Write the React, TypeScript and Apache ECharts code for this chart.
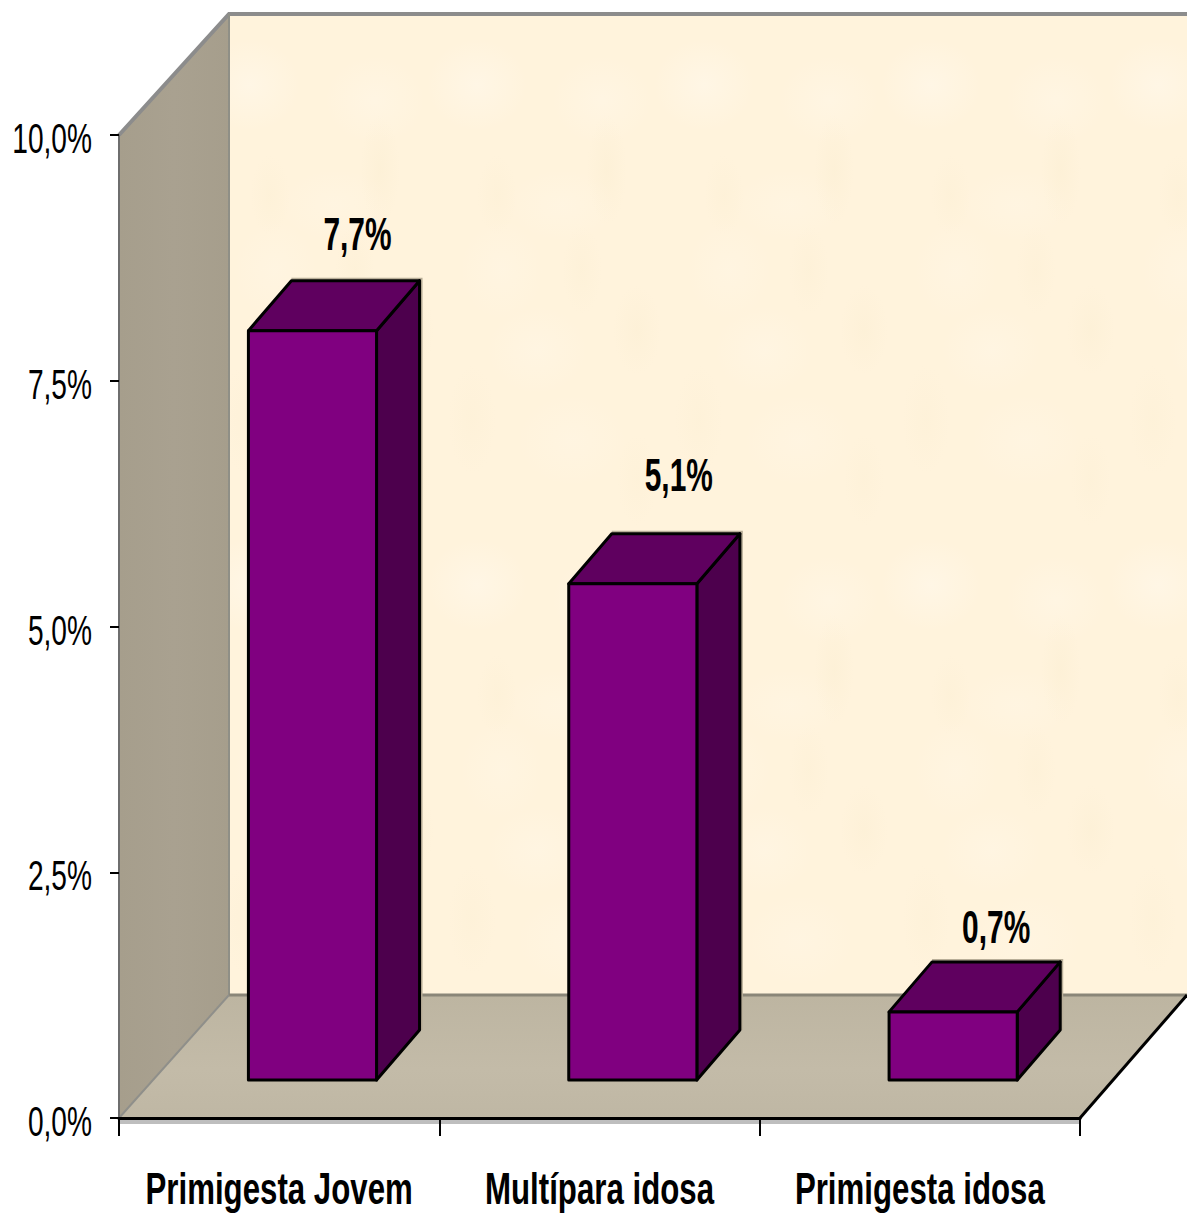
import React, { useEffect, useRef } from "react";
import * as echarts from "echarts";

const categories = ["Primigesta Jovem", "Multípara idosa", "Primigesta idosa"];
const values = [7.7, 5.1, 0.7];
const valueLabels = ["7,7%", "5,1%", "0,7%"];
const yTickValues = [0, 2.5, 5, 7.5, 10];
const yTicks = ["0,0%", "2,5%", "5,0%", "7,5%", "10,0%"];

const W = 1187;
const H = 1213;
const FONT = '"Liberation Sans", Arial, sans-serif';
const labelLift = [97, 109, 85];
const labelShift = [45, 46, 43];

// one tile of the parchment texture on the back wall: x, y, rx, ry, light(1)/dark(0), alpha
const textureTile: number[][] = [
  [35, 65, 50, 46, 1, 0.5], [160, 80, 50, 44, 1, 0.35], [120, 185, 55, 36, 1, 0.25], [60, 250, 42, 50, 1, 0.25],
  [165, 150, 20, 55, 0, 0.22], [55, 175, 20, 40, 0, 0.16], [140, 250, 20, 45, 0, 0.16], [195, 310, 24, 45, 0, 0.2],
  [95, 330, 50, 44, 1, 0.3], [30, 400, 24, 55, 0, 0.14], [130, 420, 55, 46, 1, 0.25], [195, 460, 20, 46, 0, 0.14],
];

function textureSpots() {
  const spots: any[] = [];
  for (let c = 0; c < 5; c++) {
    for (let r = 0; r < 2; r++) {
      textureTile.forEach(([x, y, rx, ry, light, a]) => {
        const cx = 215 + c * 227 + x;
        const cy = 20 + r * 500 + y;
        if (cy + ry > 992 || cy - ry < 16) return;
        const rgb = light ? "255,249,238" : "246,232,198";
        spots.push({
          type: "ellipse", z: -4,
          shape: { cx, cy, rx, ry },
          style: {
            fill: {
              type: "radial", x: 0.5, y: 0.5, r: 0.5,
              colorStops: [
                { offset: 0, color: `rgba(${rgb},${a})` },
                { offset: 1, color: `rgba(${rgb},0)` },
              ],
            },
          },
        });
      });
    }
  }
  return spots;
}

function App() {
  const ref = useRef<HTMLDivElement>(null);
  useEffect(() => {
    const chart = echarts.init(ref.current!, undefined, { renderer: "svg" });
    const wallGraphics: any[] = [
      {
        type: "polygon", z: -5,
        shape: { points: [[229, 14], [1187, 14], [1187, 995], [229, 995]] },
        style: { fill: "#FFF3DC" },
      },
      ...textureSpots(),
      {
        type: "polygon", z: -3,
        shape: { points: [[119, 135], [229, 14], [229, 995], [119, 1118]] },
        style: {
          fill: {
            type: "linear", x: 0, y: 0, x2: 1, y2: 0,
            colorStops: [
              { offset: 0, color: "#A69E8C" },
              { offset: 0.5, color: "#A9A190" },
              { offset: 1, color: "#A69E8C" },
            ],
          },
        },
      },
      {
        type: "polygon", z: -3,
        shape: { points: [[119, 1118], [229, 995], [1187, 995], [1080, 1118]] },
        style: {
          fill: {
            type: "linear", x: 0, y: 0, x2: 0, y2: 1,
            colorStops: [
              { offset: 0, color: "#BDB5A1" },
              { offset: 0.6, color: "#C3BBA8" },
              { offset: 1, color: "#BFB7A4" },
            ],
          },
        },
      },
      { type: "polyline", z: -2, shape: { points: [[119, 135], [229, 14], [1187, 14]] }, style: { stroke: "#8C8C8C", lineWidth: 4, fill: "none" } },
      { type: "line", z: -2, shape: { x1: 229, y1: 14, x2: 229, y2: 995 }, style: { stroke: "#8F8F86", lineWidth: 2 } },
      { type: "line", z: -2, shape: { x1: 229, y1: 995, x2: 1187, y2: 995 }, style: { stroke: "#8A8678", lineWidth: 3 } },
      { type: "line", z: -2, shape: { x1: 119, y1: 1118, x2: 229, y2: 995 }, style: { stroke: "#8F8F8A", lineWidth: 2 } },
      { type: "line", z: -2, shape: { x1: 1080, y1: 1118, x2: 1187, y2: 995 }, style: { stroke: "#000", lineWidth: 3 } },
      { type: "line", z: -2, shape: { x1: 119, y1: 1122, x2: 1080, y2: 1122 }, style: { stroke: "#BEBEBE", lineWidth: 4 } },
    ];

    chart.setOption({
      animation: false,
      backgroundColor: "#fff",
      grid: { left: 119, right: W - 1080, top: 135, bottom: H - 1118, containLabel: false, outerBoundsMode: "none" },
      graphic: wallGraphics,
      xAxis: {
        type: "category",
        data: categories,
        axisLine: { show: true, lineStyle: { color: "#000", width: 3 } },
        axisTick: { show: true, alignWithLabel: false, length: 18, lineStyle: { color: "#000", width: 2 } },
        axisLabel: { show: false },
      },
      yAxis: {
        type: "value",
        min: 0,
        max: 10,
        interval: 2.5,
        splitLine: { show: false },
        axisLine: { show: true, lineStyle: { color: "#6E6E6E", width: 2 } },
        axisTick: { show: true, length: 9, lineStyle: { color: "#000", width: 2 } },
        axisLabel: { show: false },
      },
      series: [
        {
          type: "custom",
          coordinateSystem: "cartesian2d",
          data: values.map((v, i) => [i, v]),
          clip: false,
          renderItem: (params: any, api: any) => {
            const i = api.value(0);
            const v = api.value(1);
            const p0 = api.coord([i, 0]);
            const band = api.size([1, 0])[0];
            const h = api.size([0, v])[1] * 0.99;
            const w = band * 0.4;
            const x = p0[0] + band * 0.104 - w / 2;
            const bottom = p0[1] - 38;
            const top = bottom - h;
            const dx = 43;
            const dy = 50;
            const stroke = { stroke: "#000", lineWidth: 3, lineJoin: "round" };
            return {
              type: "group",
              children: [
                {
                  type: "polyline",
                  shape: { points: [[x + dx, top - dy - 2], [x + w + dx + 2, top - dy - 2], [x + w + dx + 2, bottom - dy]] },
                  style: { stroke: "#B8AE98", lineWidth: 2, fill: "none" },
                },
                {
                  type: "polygon",
                  shape: { points: [[x + w, top], [x + w + dx, top - dy], [x + w + dx, bottom - dy], [x + w, bottom]] },
                  style: { fill: "#4D004D", ...stroke },
                },
                {
                  type: "polygon",
                  shape: { points: [[x, top], [x + dx, top - dy], [x + w + dx, top - dy], [x + w, top]] },
                  style: { fill: "#5F005F", ...stroke },
                },
                {
                  type: "rect",
                  shape: { x, y: top, width: w, height: h },
                  style: { fill: "#800080", ...stroke },
                },
                {
                  type: "text",
                  x: x + w / 2 + labelShift[i],
                  y: top - labelLift[i],
                  scaleX: 0.65,
                  style: {
                    text: valueLabels[i],
                    fill: "#000",
                    font: `bold 46px ${FONT}`,
                    align: "center",
                    verticalAlign: "middle",
                  },
                },
              ],
            };
          },
        },
        {
          type: "custom",
          coordinateSystem: "cartesian2d",
          data: yTickValues.map((v, i) => [0, v, i]),
          clip: false,
          renderItem: (params: any, api: any) => {
            const p = api.coord([0, api.value(1)]);
            const band = api.size([1, 0])[0];
            return {
              type: "text",
              x: p[0] - band / 2 - 27,
              y: p[1] + 4,
              scaleX: 0.67,
              style: {
                text: yTicks[api.value(2)],
                fill: "#000",
                font: `42px ${FONT}`,
                align: "right",
                verticalAlign: "middle",
              },
            };
          },
        },
        {
          type: "custom",
          coordinateSystem: "cartesian2d",
          data: categories.map((c, i) => [i, 0]),
          clip: false,
          renderItem: (params: any, api: any) => {
            const i = api.value(0);
            const p = api.coord([i, 0]);
            return {
              type: "text",
              x: p[0],
              y: p[1] + 70,
              scaleX: 0.71,
              style: {
                text: categories[i],
                fill: "#000",
                font: `bold 44px ${FONT}`,
                align: "center",
                verticalAlign: "middle",
              },
            };
          },
        },
      ],
    });
    return () => chart.dispose();
  }, []);
  return <div ref={ref} style={{ position: "absolute", left: 0, top: 0, width: W, height: H }} />;
}

export default App;
